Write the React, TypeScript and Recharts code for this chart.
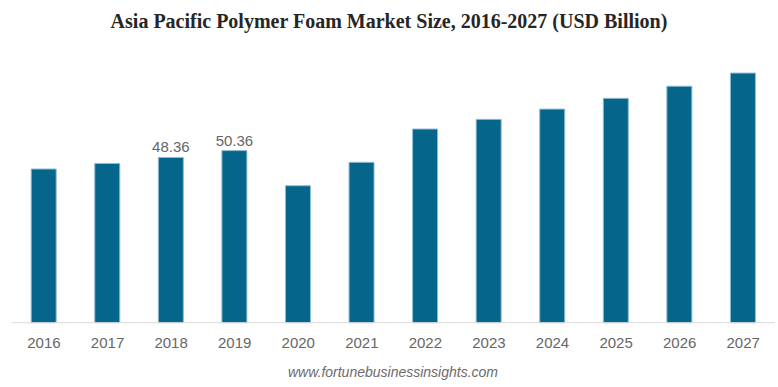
import React from "react";
import { BarChart, Bar, XAxis, YAxis, LabelList } from "recharts";

const years = ["2016", "2017", "2018", "2019", "2020", "2021", "2022", "2023", "2024", "2025", "2026", "2027"];
const values = [44.97, 46.6, 48.36, 50.36, 40.08, 46.93, 56.67, 59.5, 62.5, 65.65, 69.2, 73.05];
const shownLabels = ["", "", "48.36", "50.36", "", "", "", "", "", "", "", ""];

const data = years.map((y, i) => ({ year: y, value: values[i], label: shownLabels[i] || undefined }));

export default function App() {
  return (
    <div style={{ position: "absolute", left: 0, top: 0, width: 778, height: 387, background: "#fff" }}>
      <div
        style={{
          position: "absolute",
          left: 0,
          top: 10,
          width: 778,
          textAlign: "center",
          fontFamily: "'Liberation Serif', 'Times New Roman', serif",
          fontWeight: "bold",
          fontSize: 20,
          color: "#262626",
        }}
      >
        Asia Pacific Polymer Foam Market Size, 2016-2027 (USD Billion)
      </div>
      <BarChart
        width={778}
        height={387}
        data={data}
        margin={{ top: 49.3, right: 3, bottom: 34.3, left: 12.2 }}
      >
        <XAxis
          dataKey="year"
          height={30}
          tickLine={false}
          axisLine={{ stroke: "#d9d9d9" }}
          tick={{ fill: "#666666", fontSize: 15, fontFamily: "'Liberation Sans', Arial, sans-serif" }}
          tickMargin={9}
          interval={0}
        />
        <YAxis hide domain={[0, 80]} />
        <Bar dataKey="value" fill="#05658a" stroke="#8fbdd3" strokeWidth={1} barSize={25} isAnimationActive={false}>
          <LabelList
            dataKey="label"
            position="top"
            offset={5}
            style={{ fill: "#666666", fontSize: 15, fontFamily: "'Liberation Sans', Arial, sans-serif" }}
          />
        </Bar>
      </BarChart>
      <div
        style={{
          position: "absolute",
          left: 0,
          top: 364,
          width: 778,
          paddingLeft: 8,
          boxSizing: "border-box",
          textAlign: "center",
          fontFamily: "'Liberation Sans', Arial, sans-serif",
          fontStyle: "italic",
          fontSize: 14,
          color: "#6b6b6b",
        }}
      >
        www.fortunebusinessinsights.com
      </div>
    </div>
  );
}
